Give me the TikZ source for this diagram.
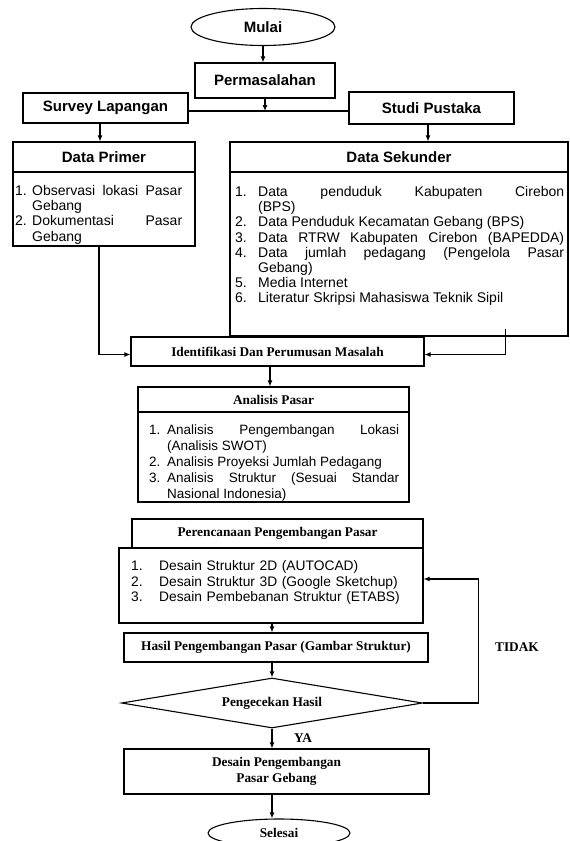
\documentclass[tikz,border=0pt]{standalone}
\usepackage{fontspec}
\setmainfont{Liberation Serif}
\setsansfont{Liberation Sans}
\usetikzlibrary{shapes.geometric,arrows.meta}
\newcommand{\litem}[3]{\par\hangindent=#1\hangafter=1\noindent\hbox to #1{#2\hfil}#3}

\begin{document}
\begin{tikzpicture}[
    x=1pt, y=-1pt,
    box/.style={draw, line width=1.1pt, inner sep=0pt},
    sbox/.style={box, font=\sffamily\bfseries\fontsize{15}{17}\selectfont},
    tbox/.style={box, font=\bfseries\fontsize{13.3}{15.5}\selectfont, align=center},
    lst/.style={anchor=north west, inner sep=0pt, align=justify,
        font=\sffamily\fontsize{14}{15.2}\selectfont},
    arr/.style={-{Latex[length=6pt,width=5pt]}, line width=1.1pt},
    lbl/.style={font=\bfseries\fontsize{13.3}{15}\selectfont}
]
\useasboundingbox (0,0) rectangle (570,841);

\node[sbox, ellipse, minimum width=144pt, minimum height=37pt] (mulai) at (263,27) {Mulai};
\node[sbox, minimum width=140pt, minimum height=35pt] (masalah) at (265,80.5) {Permasalahan};
\node[sbox, minimum width=165pt, minimum height=30pt] (survey) at (105.5,108) {Survey Lapangan};
\node[sbox, minimum width=165pt, minimum height=32pt] (studi) at (431.5,108) {Studi Pustaka};

\node[sbox, minimum width=182pt, minimum height=30pt] (primhead) at (104,157) {Data Primer};
\node[box, minimum width=182pt, minimum height=74pt] (primbody) at (104,209) {};
\node[lst, text width=167pt] (primlist) at (15,180) {%
    \litem{17pt}{1.}{Observasi lokasi Pasar\linebreak Gebang}
    \litem{17pt}{2.}{Dokumentasi Pasar\linebreak Gebang}\par};

\node[sbox, minimum width=338pt, minimum height=30pt] (sekhead) at (399,157) {Data Sekunder};
\node[box, minimum width=338pt, minimum height=164pt] (sekbody) at (399,254) {};
\node[lst, text width=329pt] (seklist) at (235,181) {%
    \litem{23pt}{1.}{Data penduduk Kabupaten Cirebon\linebreak (BPS)}
    \litem{23pt}{2.}{Data Penduduk Kecamatan Gebang (BPS)}
    \litem{23pt}{3.}{Data RTRW Kabupaten Cirebon (BAPEDDA)\parfillskip=0pt\par\parfillskip=0pt plus 1fil}
    \litem{23pt}{4.}{Data jumlah pedagang (Pengelola Pasar\linebreak Gebang)}
    \litem{23pt}{5.}{Media Internet}
    \litem{23pt}{6.}{Literatur Skripsi Mahasiswa Teknik Sipil}\par};

\node[tbox, minimum width=293pt, minimum height=29pt] (ident) at (277.5,351.5) {Identifikasi Dan Perumusan Masalah};

\node[tbox, minimum width=271pt, minimum height=25pt] (anhead) at (273.5,399.5) {Analisis Pasar};
\node[box, minimum width=271pt, minimum height=90pt] (anbody) at (273.5,457) {};
\node[lst, text width=250pt, font=\sffamily\fontsize{13.5}{16}\selectfont] (anlist) at (149,418) {%
    \litem{18pt}{1.}{Analisis Pengembangan Lokasi\linebreak (Analisis SWOT)}
    \litem{18pt}{2.}{Analisis Proyeksi Jumlah Pedagang}
    \litem{18pt}{3.}{Analisis Struktur (Sesuai Standar\linebreak Nasional Indonesia)}\par};

\node[tbox, minimum width=291pt, minimum height=29pt] (perhead) at (277.5,533.5) {Perencanaan Pengembangan Pasar};
\node[box, minimum width=304pt, minimum height=75pt] (perbody) at (271,585.5) {};
\node[lst, text width=270pt, align=left, font=\sffamily\fontsize{13.8}{15.5}\selectfont] (perlist) at (131,555) {%
    \litem{28pt}{1.}{Desain Struktur 2D (AUTOCAD)}
    \litem{28pt}{2.}{Desain Struktur 3D (Google Sketchup)}
    \litem{28pt}{3.}{Desain Pembebanan Struktur (ETABS)}\par};

\node[tbox, minimum width=304pt, minimum height=29pt] (hasil) at (276,647.5) {Hasil Pengembangan Pasar (Gambar Struktur)};
\node[tbox, diamond, aspect=6, minimum width=301pt, minimum height=50pt] (cek) at (272,703) {Pengecekan Hasil};
\node[tbox, minimum width=305pt, minimum height=45pt] (desain) at (276.5,771.5) {Desain Pengembangan\\Pasar Gebang};
\node[tbox, ellipse, minimum width=142pt, minimum height=28pt] (selesai) at (279,833) {Selesai};

\node[lbl] (tidak) at (517,647) {TIDAK};
\node[lbl] (ya) at (303,738) {YA};

\coordinate (jl) at ([yshift=-3pt]survey.east);
\coordinate (jr) at ([yshift=-3pt]studi.west);

\draw[arr] (mulai.south) -- (mulai.south |- masalah.north);
\draw[line width=1.1pt] (jl) -- (jr);
\draw[arr] (masalah.south) -- (masalah.south |- jl);
\draw[arr] ([xshift=-5.5pt]survey.south) -- ([xshift=-4pt]primhead.north);
\draw[arr] ([xshift=-3.5pt]studi.south) -- ([xshift=-3.5pt]studi.south |- sekhead.north);

\draw[arr] ([xshift=-5pt]primbody.south) |- ([yshift=-3pt]ident.west);
\draw[arr] ([xshift=-63pt, yshift=8pt]sekbody.south east) |- ([yshift=-3pt]ident.east);
\draw[arr] ([xshift=-7.5pt]ident.south) -- ([xshift=-7.5pt]ident.south |- anhead.north);

\draw[arr] (perbody.south -| cek.north) -- (hasil.north -| cek.north);
\draw[arr] (hasil.south -| cek.north) -- (cek.north);
\draw[arr] (cek.east) -- ++(55,0) |- ([yshift=6.5pt]perbody.east);
\draw[arr] (cek.south) -- (desain.north -| cek.south);
\draw[arr] (desain.south -| cek.south) -- (selesai.north -| cek.south);

\end{tikzpicture}
\end{document}
